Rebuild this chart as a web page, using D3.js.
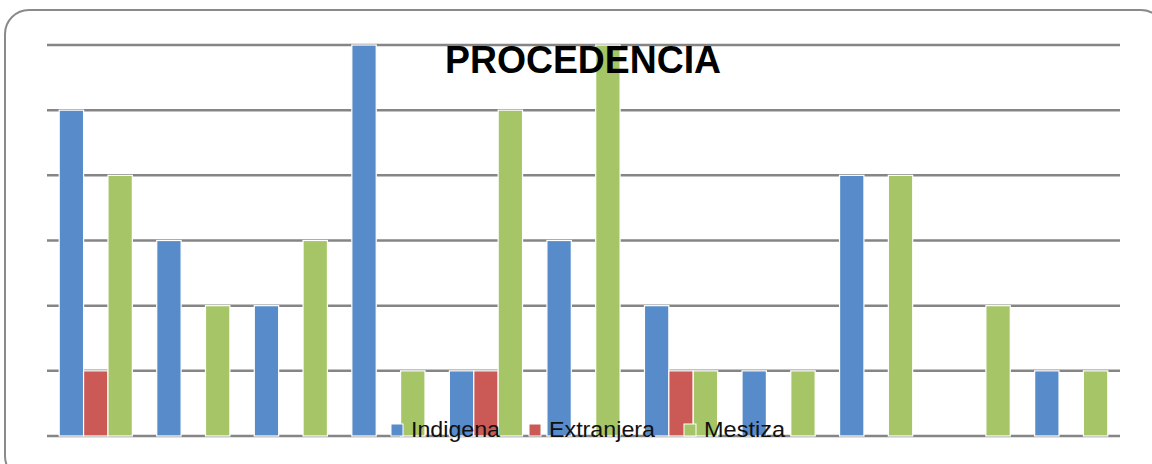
<!DOCTYPE html>
<html>
<head>
<meta charset="utf-8">
<script src="https://cdn.jsdelivr.net/npm/d3@7"></script>
<style>
  body { margin: 0; background: #fff; }
  svg { display: block; font-family: "Liberation Sans", Arial, sans-serif; }
</style>
</head>
<body>
<div id="figure"></div>
<script>
// data
var groups = ["1", "2", "3", "4", "5", "6", "7", "8", "9", "10", "11"];
var seriesNames = ["Indigena", "Extranjera", "Mestiza"];
var indigena   = [5, 3, 2, 6, 1, 3, 2, 1, 4, 0, 1];
var extranjera = [1, 0, 0, 0, 1, 0, 1, 0, 0, 0, 0];
var mestiza    = [4, 2, 3, 1, 5, 6, 1, 1, 4, 2, 1];
var yTicks = [0, 1, 2, 3, 4, 5, 6];
var colors = ["#588bc9", "#cb5a56", "#a6c566"];

var W = 1152, H = 464;
const margin = {top: 45, right: 32, bottom: 28, left: 47},
  width = W - margin.left - margin.right,
  height = H - margin.top - margin.bottom;

const root = d3.select("#figure").append("svg")
  .attr("width", W)
  .attr("height", H);

// rounded frame
root.append("rect")
  .attr("x", 5).attr("y", 10)
  .attr("width", 1160).attr("height", 470)
  .attr("rx", 24).attr("ry", 24)
  .attr("fill", "none")
  .attr("stroke", "#8a8a8a")
  .attr("stroke-width", 2);

const svg = root.append("g")
  .attr("transform", `translate(${margin.left},${margin.top})`);

const x = d3.scaleBand().domain(groups).range([0, width]).paddingInner(0).paddingOuter(0);
const xs = d3.scaleBand().domain(seriesNames).range([x.bandwidth() / 8, x.bandwidth() * 7 / 8]);
const y = d3.scaleLinear().domain([0, 6]).range([height, 0]);

// gridlines
svg.append("g")
  .selectAll("line")
  .data(yTicks)
  .join("line")
  .attr("x1", 0).attr("x2", width)
  .attr("y1", d => y(d)).attr("y2", d => y(d))
  .attr("stroke", "#858585")
  .attr("stroke-width", 2.5);

var data = groups.map((g, i) => ({
  group: g,
  values: [indigena[i], extranjera[i], mestiza[i]]
}));

svg.append("g")
  .selectAll("g")
  .data(data)
  .join("g")
  .attr("transform", d => `translate(${x(d.group)},0)`)
  .selectAll("rect")
  .data(d => d.values.map((v, j) => ({name: seriesNames[j], value: v, j: j})))
  .join("rect")
  .filter(d => d.value > 0)
  .attr("x", d => xs(d.name))
  .attr("y", d => y(d.value))
  .attr("width", xs.bandwidth())
  .attr("height", d => y(0) - y(d.value))
  .attr("fill", d => colors[d.j])
  .attr("stroke", "#ffffff")
  .attr("stroke-width", 1.2);

// title
root.append("text")
  .attr("x", 583).attr("y", 73)
  .attr("text-anchor", "middle")
  .attr("font-size", 39)
  .attr("font-weight", "bold")
  .attr("textLength", 276)
  .attr("lengthAdjust", "spacingAndGlyphs")
  .text("PROCEDENCIA");

// legend
var legX = [391, 529, 684];
var legLen = [89, 106, 81];
const leg = root.append("g");
seriesNames.forEach((n, i) => {
  leg.append("rect")
    .attr("x", legX[i]).attr("y", 424)
    .attr("width", 12).attr("height", 12)
    .attr("fill", colors[i])
    .attr("stroke", "#fff");
  leg.append("text")
    .attr("x", legX[i] + 20).attr("y", 437)
    .attr("font-size", 22)
    .attr("textLength", legLen[i])
    .attr("lengthAdjust", "spacingAndGlyphs")
    .attr("fill", "#111")
    .text(n);
});
</script>
</body>
</html>
